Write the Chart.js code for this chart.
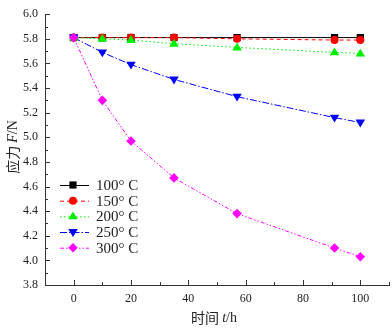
<!DOCTYPE html>
<html>
<head>
<meta charset="utf-8">
<script src="https://cdn.jsdelivr.net/npm/chart.js@4/dist/chart.umd.min.js"></script>
<style>
html,body{margin:0;padding:0;background:#fff;}
#wrap{width:392px;height:328px;position:relative;}
</style>
</head>
<body>
<div id="wrap"><canvas id="c" width="392" height="328"></canvas></div>
<script>
const timeHours = [0, 10, 20, 35, 57, 91, 100];
const seriesLabels = ['100° C', '150° C', '200° C', '250° C', '300° C'];
const force100 = [5.81, 5.81, 5.81, 5.81, 5.81, 5.81, 5.81];
const force150 = [5.81, 5.81, 5.81, 5.81, 5.80, 5.79, 5.79];
const force200 = [5.81, 5.80, 5.79, 5.76, 5.73, 5.69, 5.68];
const force250 = [5.81, 5.69, 5.59, 5.47, 5.33, 5.16, 5.12];
const force300 = [5.81, 5.30, 4.97, 4.67, 4.38, 4.10, 4.03];
const xTickLabels = [0, 20, 40, 60, 80, 100];
const yTickLabels = [3.8, 4.0, 4.2, 4.4, 4.6, 4.8, 5.0, 5.2, 5.4, 5.6, 5.8, 6.0];
const xTitle = ['时间 ', 't', '/h'];
const yTitle = ['应力 ', 'F', '/N'];

const styles = [
  {color:'#000000', dash:[], marker:'square', r:5},
  {color:'#ff0000', dash:[4,3], marker:'circle', r:4},
  {color:'#00ee00', dash:[1.5,2.5], marker:'up', r:5.5},
  {color:'#0000ff', dash:[7,2,1.5,2], marker:'down', r:5.5},
  {color:'#ff00ff', dash:[4,2,1.5,2,1.5,2], marker:'diamond', r:4.8}
];
const seriesData = [force100, force150, force200, force250, force300];

function drawMarker(ctx, type, x, y, r, color){
  ctx.save();
  ctx.setLineDash([]);
  ctx.fillStyle = color;
  ctx.strokeStyle = color;
  ctx.beginPath();
  if (type === 'square') {
    const s = r*0.72;
    ctx.rect(x-s, y-s, 2*s, 2*s);
  } else if (type === 'circle') {
    ctx.arc(x, y, r, 0, Math.PI*2);
  } else if (type === 'up') {
    const h = r*0.9;
    ctx.moveTo(x, y-h); ctx.lineTo(x+r*0.87, y+h*0.6); ctx.lineTo(x-r*0.87, y+h*0.6); ctx.closePath();
  } else if (type === 'down') {
    const h = r*0.9;
    ctx.moveTo(x, y+h); ctx.lineTo(x+r*0.87, y-h*0.6); ctx.lineTo(x-r*0.87, y-h*0.6); ctx.closePath();
  } else if (type === 'diamond') {
    ctx.moveTo(x, y-r); ctx.lineTo(x+r, y); ctx.lineTo(x, y+r); ctx.lineTo(x-r, y); ctx.closePath();
  }
  ctx.fill();
  ctx.restore();
}

const datasets = seriesLabels.map((lab, i) => ({
  label: lab,
  data: timeHours.map((t, j) => ({x: t, y: seriesData[i][j]})),
  borderColor: styles[i].color,
  borderWidth: 1,
  borderDash: styles[i].dash,
  pointRadius: 0,
  fill: false,
  tension: 0,
  order: 4 - i
}));

const markerPlugin = {
  id: 'markers',
  afterDatasetsDraw(chart) {
    const ctx = chart.ctx;
    const xs = chart.scales.x, ys = chart.scales.y;
    for (let i = 0; i < seriesData.length; i++) {
      timeHours.forEach((t, j) => {
        drawMarker(ctx, styles[i].marker, xs.getPixelForValue(t), ys.getPixelForValue(seriesData[i][j]), styles[i].r, styles[i].color);
      });
    }
  }
};

const axisPlugin = {
  id: 'axisDecor',
  afterDraw(chart) {
    const ctx = chart.ctx;
    const xs = chart.scales.x, ys = chart.scales.y;
    const ca = chart.chartArea;
    ctx.save();
    ctx.strokeStyle = '#333';
    ctx.lineWidth = 1;
    ctx.setLineDash([]);
    for (let v = 0; v <= 110; v += 10) {
      const px = Math.round(xs.getPixelForValue(v)) + 0.5;
      const len = (v % 20 === 0) ? 5 : 3;
      ctx.beginPath(); ctx.moveTo(px, ca.bottom); ctx.lineTo(px, ca.bottom - len); ctx.stroke();
    }
    for (let k = 0; k <= 22; k++) {
      const v = 3.8 + k*0.1;
      const py = Math.round(ys.getPixelForValue(v)) + 0.5;
      const len = (k % 2 === 0) ? 5 : 3;
      ctx.beginPath(); ctx.moveTo(ca.left, py); ctx.lineTo(ca.left + len, py); ctx.stroke();
    }
    function mixed(parts, size) {
      const fonts = [
        size + 'px "Noto Sans CJK SC"',
        'italic ' + size + 'px "Liberation Serif"',
        size + 'px "Liberation Serif"'
      ];
      let w = 0; const ws = [];
      parts.forEach((p, i) => { ctx.font = fonts[i]; const m = ctx.measureText(p).width; ws.push(m); w += m; });
      return {fonts, ws, w};
    }
    ctx.fillStyle = '#222';
    ctx.textBaseline = 'middle';
    ctx.textAlign = 'left';
    let m = mixed(xTitle, 14);
    let x0 = (ca.left + ca.right)/2 - m.w/2 - 3;
    xTitle.forEach((p, i) => { ctx.font = m.fonts[i]; ctx.fillText(p, x0, 318); x0 += m.ws[i]; });
    ctx.save();
    ctx.translate(13, 147);
    ctx.rotate(-Math.PI/2);
    m = mixed(yTitle, 14);
    x0 = -m.w/2;
    yTitle.forEach((p, i) => { ctx.font = m.fonts[i]; ctx.fillText(p, x0, 0); x0 += m.ws[i]; });
    ctx.restore();
    const lx0 = 60, lx1 = 89, mx = 73, tx = 96;
    const ly = [185, 200.7, 216.4, 232, 247.7];
    seriesLabels.forEach((lab, i) => {
      ctx.save();
      ctx.strokeStyle = styles[i].color;
      ctx.lineWidth = 1;
      ctx.setLineDash(styles[i].dash);
      ctx.beginPath(); ctx.moveTo(lx0, ly[i] + 0.5); ctx.lineTo(lx1, ly[i] + 0.5); ctx.stroke();
      ctx.restore();
      drawMarker(ctx, styles[i].marker, mx, ly[i], styles[i].r, styles[i].color);
      ctx.fillStyle = '#222';
      ctx.font = '15px "Liberation Serif"';
      ctx.textAlign = 'left';
      ctx.textBaseline = 'middle';
      ctx.fillText(lab, tx, ly[i] + 1);
    });
    ctx.restore();
  }
};

new Chart(document.getElementById('c'), {
  type: 'line',
  data: { datasets },
  options: {
    responsive: false,
    animation: false,
    devicePixelRatio: 1,
    layout: { padding: { top: 9, right: 3, left: 0, bottom: 0 } },
    plugins: { legend: { display: false }, tooltip: { enabled: false } },
    scales: {
      x: {
        type: 'linear',
        min: -10, max: 110,
        afterBuildTicks(s) { s.ticks = xTickLabels.map(v => ({value: v})); },
        afterFit(s) { s.height = 43; },
        grid: { display: false, drawTicks: false },
        border: { display: true, color: '#333', width: 1 },
        ticks: { padding: 7, color: '#222', font: { family: 'Liberation Serif', size: 12 }, maxRotation: 0 }
      },
      y: {
        type: 'linear',
        min: 3.8, max: 6.0,
        afterBuildTicks(s) { s.ticks = yTickLabels.map(v => ({value: v})); },
        afterFit(s) { s.width = 45; },
        grid: { display: false, drawTicks: false },
        border: { display: true, color: '#333', width: 1 },
        ticks: { padding: 7, color: '#222', font: { family: 'Liberation Serif', size: 12 }, callback: v => Number(v).toFixed(1) }
      }
    }
  },
  plugins: [markerPlugin, axisPlugin]
});
</script>
</body>
</html>
